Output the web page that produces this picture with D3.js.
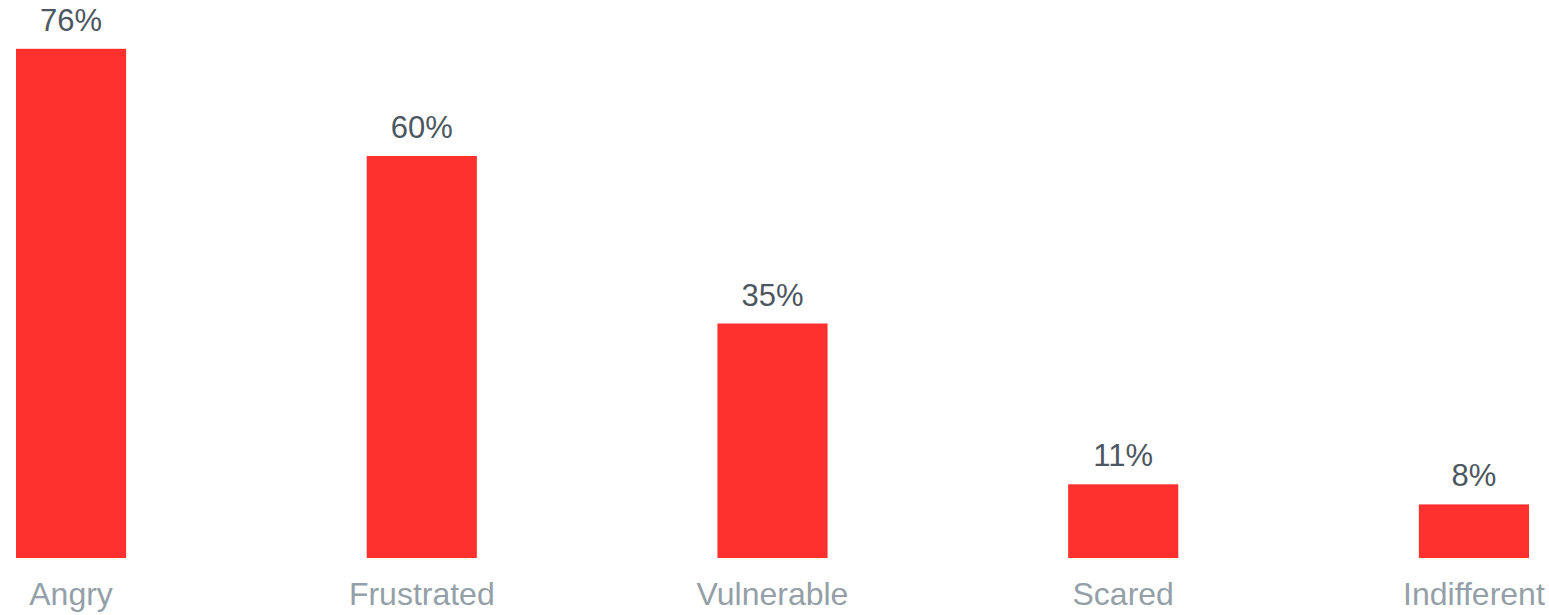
<!DOCTYPE html>
<html>
<head>
<meta charset="utf-8">
<script src="https://cdn.jsdelivr.net/npm/d3@7"></script>
<style>
  html, body { margin: 0; padding: 0; background: #ffffff; }
  svg { display: block; font-family: "Liberation Sans", Arial, sans-serif; }
</style>
</head>
<body>
<svg id="chart" width="1549" height="615"></svg>
<script>
// Emotions reported, share of respondents (%)
const categories = ["Angry", "Frustrated", "Vulnerable", "Scared", "Indifferent"];
const values = [76, 60, 35, 11, 8];

const svg = d3.select("#chart");
const baseline = 558;

const x = d3.scaleBand()
  .domain(categories)
  .range([16, 1529])
  .paddingInner(0.686)
  .paddingOuter(0);

const y = d3.scaleLinear()
  .domain([0, 80])
  .range([baseline, 22]);

const data = categories.map((c, i) => ({ c, v: values[i] }));

// bars
svg.append("g")
  .selectAll("rect")
  .data(data)
  .join("rect")
  .attr("x", d => x(d.c))
  .attr("y", d => y(d.v))
  .attr("width", x.bandwidth())
  .attr("height", d => y(0) - y(d.v))
  .attr("fill", "#ff312e");

// value labels above bars
svg.append("g")
  .selectAll("text")
  .data(data)
  .join("text")
  .attr("x", d => x(d.c) + x.bandwidth() / 2)
  .attr("y", d => y(d.v) - 18)
  .attr("text-anchor", "middle")
  .attr("font-size", 31)
  .attr("fill", "#4d575f")
  .text(d => d.v + "%");

// category axis (no line, no ticks)
const axis = svg.append("g")
  .attr("transform", `translate(0,${baseline})`)
  .call(d3.axisBottom(x).tickSize(0).tickPadding(0));
axis.select(".domain").remove();
axis.selectAll("text")
  .attr("y", 47)
  .attr("dy", 0)
  .attr("font-size", 32)
  .attr("font-family", "'Liberation Sans', Arial, sans-serif")
  .attr("fill", "#949fa8");
</script>
</body>
</html>
